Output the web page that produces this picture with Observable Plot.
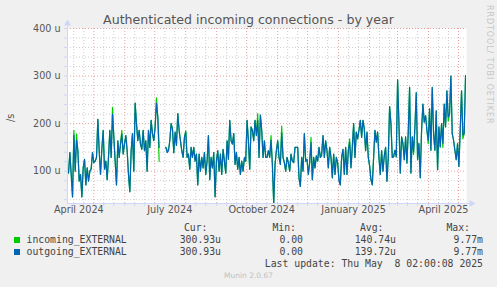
<!DOCTYPE html>
<html><head><meta charset="utf-8">
<script src="https://cdn.jsdelivr.net/npm/d3@7"></script>
<script src="https://cdn.jsdelivr.net/npm/@observablehq/plot@0.6"></script>
<style>
html,body{margin:0;padding:0;background:#f0f0f0;}
#wrap{position:relative;width:497px;height:287px;overflow:hidden;font-family:"DejaVu Sans",sans-serif;color:#555;}
.t{position:absolute;white-space:pre;line-height:12px;height:12px;}
.mono{font-family:"DejaVu Sans Mono",monospace;font-size:9.8px;color:#444;}
.r{text-align:right;}
.sq{position:absolute;width:6px;height:6px;}
#chart{position:absolute;left:0;top:24px;}
#chart svg{overflow:visible;}
</style></head><body>
<div id="wrap">
  <div class="t" id="title" style="left:0;width:497px;top:12px;height:15px;line-height:15px;text-align:center;font-size:12.6px;color:#555;"></div>
  <div id="chart"></div>
  <div class="t" id="ylab" style="left:5px;top:110px;font-size:9.6px;color:#555;transform:rotate(-90deg);transform-origin:6px 6px;"></div>
  <div class="t" id="wm" style="left:484px;top:5px;font-size:8px;letter-spacing:0.9px;color:#c6c6c6;writing-mode:vertical-rl;height:auto;line-height:10px;"></div>
  <div id="legend"></div>
</div>
<script>
// ---------- data ----------
const titleText = "Authenticated incoming connections - by year";
const yUnitLabel = "/s";
const watermark = "RRDTOOL/ TOBI OETIKER";
// daily-ish samples, one every 32 hours starting 2024-04-04 09:00 UTC (values in micro per second)
const sampleStart = "2024-04-04T09:00:00Z";
const sampleStepHours = 32;
const outgoing = [
104,96,139,93,46,176,100,165,143,79,93,46,107,125,71,107,79,100,104,139,118,121,129,209,143,93,146,186,104,121,82,129,186,129,220,171,121,71,164,129,157,178,136,157,175,143,93,57,143,179,100,243,200,164,186,157,146,186,143,164,100,
186,150,207,179,164,193,243,214,150,null,null,null,null,150,139,143,164,200,189,139,182,154,221,186,164,143,129,171,182,129,136,104,150,129,150,121,136,71,136,100,129,107,139,93,121,175,82,129,107,139,46,121,143,100,136,93,146,121,96,164,125,207,
164,157,179,114,139,104,129,93,121,100,129,121,207,164,104,193,186,164,207,175,207,129,218,186,129,164,129,129,143,129,165,114,32,114,143,164,129,114,180,129,118,100,129,118,100,136,121,118,150,150,150,86,68,129,100,179,121,125,93,118,160,
82,129,107,132,121,150,129,132,175,129,164,143,107,150,129,86,136,93,129,118,79,71,129,146,93,150,93,143,161,107,150,200,129,182,168,186,207,171,207,189,143,182,129,111,82,71,129,186,161,182,129,93,143,100,132,150,79,129,236,200,129,
130,144,130,292,200,96,172,158,124,172,117,182,276,96,172,141,193,265,124,158,86,186,241,203,217,186,165,231,144,276,179,144,227,103,193,151,200,158,241,193,269,214,220,300,179,165,144,124,158,110,186,269,176,179,301
];
const incoming = [
104,96,139,93,46,186,100,178,143,79,93,46,107,125,71,107,79,100,106,139,118,121,129,209,143,93,146,186,104,121,82,129,186,129,234,171,121,71,164,129,157,186,136,157,175,143,93,57,143,179,100,243,200,164,186,157,146,186,143,164,100,
186,150,207,179,164,193,254,214,121,null,null,null,null,150,145,143,164,200,189,139,182,154,221,186,164,143,129,171,185,129,136,104,150,129,150,121,136,71,136,100,129,107,139,93,121,175,82,129,107,139,46,121,143,100,136,93,146,121,96,164,125,207,
164,157,179,114,139,104,129,93,121,100,126,121,207,164,104,193,186,164,207,175,221,129,218,186,129,164,129,129,143,129,175,114,32,114,143,164,129,114,195,129,118,100,129,118,100,136,121,118,150,150,150,86,68,129,100,179,121,125,93,118,171,
82,129,107,132,121,150,129,140,175,129,164,143,107,150,129,86,136,93,129,118,85,71,129,146,93,150,93,143,168,107,150,200,129,182,168,186,207,171,207,189,143,182,129,111,82,71,129,186,161,182,129,93,143,100,132,150,79,129,236,200,129,
130,144,130,292,200,96,172,158,124,172,117,182,276,96,172,135,193,265,124,158,86,186,241,203,217,186,158,231,144,276,179,144,227,103,193,151,200,150,241,193,269,205,220,300,179,165,144,124,158,110,186,269,168,179,301
];
const xDomain = [new Date("2024-04-04T16:00:00Z"), new Date("2025-05-09T00:00:00Z")];
const yDomain = [32, 400];
const yLabelValues = [100, 200, 300, 400];
const xLabelMonths = ["2024-04-01", "2024-07-01", "2024-10-01", "2025-01-01", "2025-04-01"];
const seriesNames = ["incoming_EXTERNAL", "outgoing_EXTERNAL"];
const seriesColors = ["#00CC00", "#0066B3"];
const curValues = ["300.93u", "300.93u"];
const minValues = ["0.00", "0.00"];
const avgValues = ["140.74u", "139.72u"];
const maxValues = ["9.77m", "9.77m"];
const columnHeaders = ["Cur:", "Min:", "Avg:", "Max:"];
const lastUpdate = "Last update: Thu May  8 02:00:08 2025";
const footer = "Munin 2.0.67";

// ---------- build ----------
const t0 = new Date(sampleStart).getTime();
const rows = outgoing.map((v, i) => ({date: new Date(t0 + i * sampleStepHours * 3600e3), out: v, inc: incoming[i]}));

const gridY = d3.range(40, 401, 20);
const minorY = gridY.filter(v => v % 100 !== 0);
const majorY = gridY.filter(v => v % 100 === 0);
const majorX = d3.utcMonth.range(xDomain[0], xDomain[1]);
const minorX = d3.utcDay.range(xDomain[0], xDomain[1]).filter(d => d.getUTCDate() === 11 || d.getUTCDate() === 21);
const xLabels = xLabelMonths.map(s => d3.utcDay.offset(new Date(s + "T00:00:00Z"), 15));
const fmtMonth = d3.utcFormat("%B %Y");
const axisCol = "#CFD6F8";

const chart = Plot.plot({
  width: 497, height: 195,
  marginLeft: 67, marginRight: 31, marginTop: 4, marginBottom: 16,
  style: {background: "transparent", overflow: "visible", color: axisCol, fontFamily: "DejaVu Sans"},
  x: {type: "utc", domain: xDomain, axis: "bottom", ticks: [...majorX, ...minorX], tickSize: 3, tickFormat: () => "", label: null},
  y: {domain: yDomain, axis: "left", ticks: gridY, tickSize: 3, tickFormat: () => "", label: null},
  marks: [
    Plot.frame({fill: "white", stroke: "none"}),
    Plot.ruleY(minorY, {stroke: "#cfcfcf", strokeDasharray: "1,2"}),
    Plot.ruleX(minorX, {stroke: "#cfcfcf", strokeDasharray: "1,2"}),
    Plot.ruleY(majorY, {stroke: "#e9a0a0", strokeDasharray: "1,2"}),
    Plot.ruleX(majorX, {stroke: "#e9a0a0", strokeDasharray: "1,2"}),
    Plot.line(rows, {x: "date", y: "inc", stroke: seriesColors[0], strokeWidth: 1.2, clip: true}),
    Plot.line(rows, {x: "date", y: "out", stroke: seriesColors[1], strokeWidth: 1.2, clip: true}),
    Plot.ruleX([xDomain[0]], {stroke: axisCol, insetTop: -5}),
    Plot.ruleY([yDomain[0]], {stroke: axisCol, insetRight: -5}),
    Plot.dot([{x: xDomain[0], y: yDomain[1]}], {x: "x", y: "y", symbol: "triangle", r: 2.6, fill: axisCol, stroke: null, dy: -5}),
    Plot.dot([{x: xDomain[1], y: yDomain[0]}], {x: "x", y: "y", symbol: "triangle", r: 2.6, fill: axisCol, stroke: null, dx: 5, rotate: 90}),
    Plot.text(yLabelValues, {y: d => d, frameAnchor: "left", dx: -7, textAnchor: "end", text: d => `${d} u`, fill: "#555", fontSize: 9.6}),
    Plot.text(xLabels, {x: d => d, frameAnchor: "bottom", dy: 9.5, text: d => fmtMonth(d), fill: "#555", fontSize: 9.7})
  ]
});
document.getElementById("chart").append(chart);

document.getElementById("title").textContent = titleText;
document.getElementById("ylab").textContent = yUnitLabel;
document.getElementById("wm").textContent = watermark;

// ---------- legend ----------
const lg = document.getElementById("legend");
function addText(txt, opts) {
  const d = document.createElement("div");
  d.className = "t mono" + (opts.right != null ? " r" : "");
  d.textContent = txt;
  d.style.top = (opts.cy - 6) + "px";
  if (opts.right != null) d.style.right = (497 - opts.right) + "px";
  else d.style.left = opts.left + "px";
  lg.appendChild(d);
  return d;
}
const headerRights = [207.5, 296, 383.5, 470];
columnHeaders.forEach((h, i) => addText(h, {cy: 227.5, right: headerRights[i]}));
const valueRights = [221, 303, 396, 483];
const rowCY = [240, 252];
seriesNames.forEach((name, i) => {
  const sq = document.createElement("div");
  sq.className = "sq";
  sq.style.left = "14px"; sq.style.top = (rowCY[i] - 3) + "px";
  sq.style.background = seriesColors[i];
  lg.appendChild(sq);
  addText(name, {cy: rowCY[i], left: 26.5});
  [curValues[i], minValues[i], avgValues[i], maxValues[i]].forEach((v, j) => addText(v, {cy: rowCY[i], right: valueRights[j]}));
});
addText(lastUpdate, {cy: 264, right: 483});
const f = document.createElement("div");
f.className = "t";
f.textContent = footer;
f.style.cssText = "left:0;width:497px;text-align:center;top:270px;font-size:7.5px;color:#c0c0c0;";
lg.appendChild(f);
</script>
</body></html>
